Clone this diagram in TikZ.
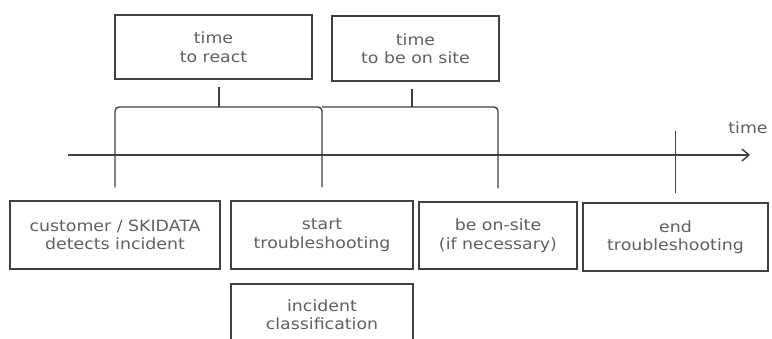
\documentclass[tikz,border=0pt]{standalone}
\usepackage{fontspec}
\setmainfont{DejaVu Sans}[FakeStretch=1.12]
\usetikzlibrary{arrows.meta}
\definecolor{linec}{HTML}{404040}
\definecolor{textc}{HTML}{606060}
\tikzset{
  box/.style={draw=linec, line width=1.4pt, inner sep=0pt, align=center,
    text=textc, font=\fontsize{15.5}{18.5}\selectfont},
  conn/.style={draw=linec, line width=1.4pt, rounded corners=4pt},
}
\begin{document}
\begin{tikzpicture}[x=1pt,y=-1pt]
\useasboundingbox (0,0) rectangle (772,338);
% top boxes
\node[box, minimum width=197pt, minimum height=64pt] (react) at (213.5,47) {time\\to react};
\node[box, minimum width=167pt, minimum height=65pt] (site) at (415.5,48.5) {time\\to be on site};
% bottom boxes
\node[box, minimum width=210pt, minimum height=68pt] (cust) at (115,235) {customer / SKIDATA\\detects incident};
\node[box, minimum width=182pt, minimum height=68pt] (start) at (322,235) {start\\troubleshooting};
\node[box, minimum width=158pt, minimum height=67pt] (onsite) at (498,235.5) {be on-site\\(if necessary)};
\node[box, minimum width=185pt, minimum height=68pt] (end) at (675.5,237) {end\\troubleshooting};
\node[box, minimum width=182pt, minimum height=61pt] (class) at (322,314.5) {incident\\classification};
% time axis
\coordinate (axs) at (68,155);
\coordinate (axe) at (750,155);
\draw[draw=linec, line width=1.4pt, -{Straight Barb[length=7pt,width=12pt,line width=1.4pt]}] (axs) -- (axe);
\node[text=textc, font=\fontsize{15.5}{18.5}\selectfont, anchor=center] (timelbl) at (748,128) {time};
% braces
\coordinate (b1) at (219,107);
\coordinate (b2) at (412,107);
\draw[conn] ([yshift=13pt]cust.north) -- (cust.north |- b1) -- (start.north |- b1) -- ([yshift=13pt]start.north);
\draw[conn] (start.north |- b1) -- (onsite.north |- b1) -- ([yshift=13pt]onsite.north);
\draw[conn] ([yshift=-7pt]b1 |- react.south) -- (b1);
\draw[conn] ([yshift=-7pt]b2 |- site.south) -- (b2);
\draw[conn] ([yshift=9pt]end.north) -- (end.north |- 0,131);
\end{tikzpicture}
\end{document}
